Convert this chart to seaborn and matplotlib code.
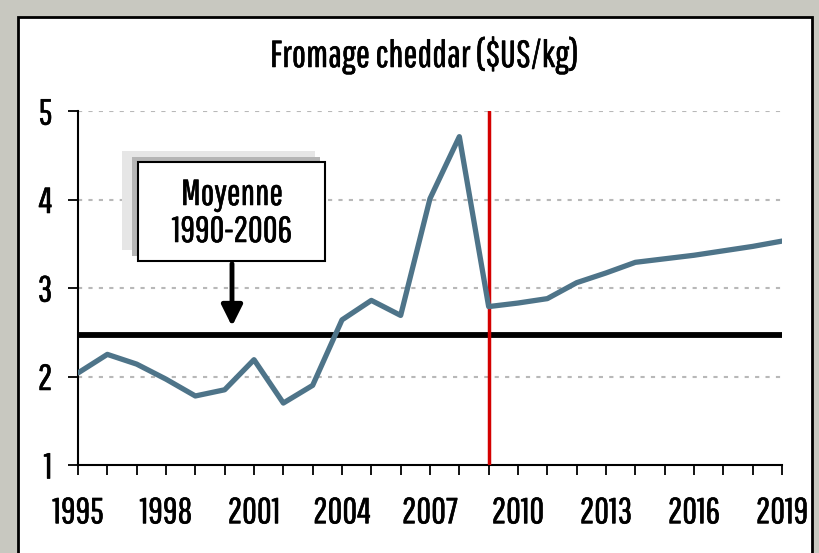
import matplotlib
matplotlib.use("Agg")
import matplotlib.pyplot as plt
import matplotlib.patches as mpatches
import matplotlib.patheffects as pe
import seaborn as sns
import pandas as pd

years = list(range(1995, 2020))
prices = [2.04, 2.25, 2.14, 1.97, 1.78, 1.85, 2.19, 1.70, 1.90, 2.64, 2.86, 2.69,
          4.01, 4.71, 2.79, 2.83, 2.88, 3.06, 3.17, 3.29, 3.33, 3.37, 3.42, 3.47, 3.53]
mean_value = 2.47
forecast_year = 2009
xtick_labels = [1995, 1998, 2001, 2004, 2007, 2010, 2013, 2016, 2019]
yticks = [1, 2, 3, 4, 5]
title = "Fromage cheddar ($US/kg)"
note_lines = ["Moyenne", "1990-2006"]

sns.set_theme(style="white")
plt.rcParams['font.family'] = ['Pathway Gothic One', 'Archivo Narrow', 'DejaVu Sans']
plt.rcParams['text.color'] = 'black'
plt.rcParams['xtick.color'] = 'black'
plt.rcParams['ytick.color'] = 'black'

thick = [pe.withStroke(linewidth=0.4, foreground="black")]

df = pd.DataFrame({"year": years, "price": prices})

fig = plt.figure(figsize=(8.2, 5.53), dpi=100)
fig.patch.set_facecolor("#c8c8c0")
panel = mpatches.Rectangle((18 / 820, -0.01), (812 - 18) / 820, 1 - 17 / 553 + 0.01,
                           transform=fig.transFigure, facecolor="white",
                           edgecolor="black", linewidth=2, zorder=-10)
fig.patches.append(panel)

ax = fig.add_axes([78 / 820, 1 - 465 / 553, (782 - 78) / 820, (465 - 111) / 553])
ax.set_facecolor("none")

for yv in yticks[1:]:
    ax.axhline(yv, color="#b8b8b8", linestyle=(0, (2, 3)), linewidth=1.5, zorder=1)

ax.axhline(mean_value, color="black", linewidth=4.2, solid_capstyle="round", zorder=3)
ax.axvline(forecast_year, color="#d40000", linewidth=2.5, zorder=4)

sns.lineplot(data=df, x="year", y="price", ax=ax, color="#4e7489", linewidth=3.8,
             zorder=5, legend=False)
ax.lines[-1].set_solid_capstyle("round")

ax.set_xlim(1995, 2019)
ax.set_ylim(1, 5)
ax.set_xticks(years)
ax.set_xticklabels([str(y) if y in xtick_labels else "" for y in years])
ax.set_yticks(yticks)
ax.set_yticklabels([str(v) for v in yticks])
ax.set_xlabel("")
ax.set_ylabel("")

for s in ["top", "right"]:
    ax.spines[s].set_visible(False)
for s in ["left", "bottom"]:
    ax.spines[s].set_color("black")
    ax.spines[s].set_linewidth(1.5)
ax.tick_params(axis="x", direction="out", length=7.5, width=1.3, color="black",
               labelsize=26, pad=15, bottom=True)
ax.tick_params(axis="y", direction="out", length=7.5, width=1.3, color="black",
               labelsize=26, pad=11, left=True)
for lab in ax.get_xticklabels() + ax.get_yticklabels():
    lab.set_path_effects(thick)

fig.text(424.5 / 820, 1 - 67 / 553, title, ha="center", va="baseline", fontsize=27,
         path_effects=thick)

shadow_light = mpatches.Rectangle((122 / 820, 1 - 250 / 553), (315 - 122) / 820, (250 - 151) / 553,
                                  transform=fig.transFigure, facecolor="#e6e6e6",
                                  edgecolor="none", zorder=5)
fig.patches.append(shadow_light)
shadow = mpatches.Rectangle((132 / 820, 1 - 256 / 553), (320 - 132) / 820, (256 - 157) / 553,
                            transform=fig.transFigure, facecolor="#b5b5b5",
                            edgecolor="none", zorder=6)
fig.patches.append(shadow)
box = mpatches.Rectangle((138 / 820, 1 - 261 / 553), (325 - 138) / 820, (261 - 162) / 553,
                         transform=fig.transFigure, facecolor="white",
                         edgecolor="black", linewidth=1.5, zorder=7)
fig.patches.append(box)
for line, base in zip(note_lines, [205, 242]):
    fig.text(232 / 820, 1 - base / 553, line, ha="center", va="baseline", fontsize=26,
             zorder=8, path_effects=thick)
fig.patches.append(mpatches.FancyArrowPatch((232 / 820, 1 - 261 / 553), (232 / 820, 1 - 329 / 553),
                                            transform=fig.transFigure,
                                            arrowstyle="-|>,head_length=0.9,head_width=0.45",
                                            mutation_scale=14, color="black",
                                            linewidth=3.5, zorder=8))

fig.savefig("out.png", dpi=100, facecolor=fig.get_facecolor())
